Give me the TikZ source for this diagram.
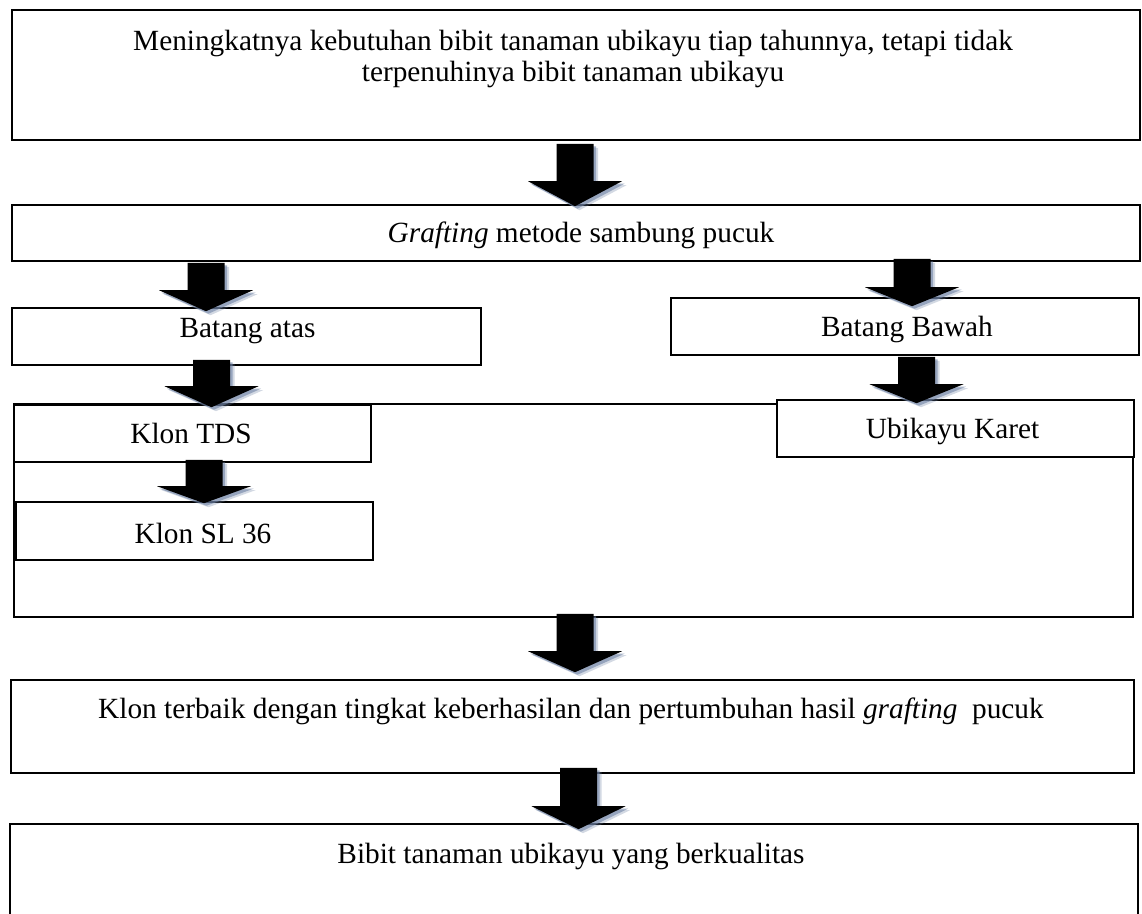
\documentclass[tikz,border=0pt]{standalone}
\usepackage{fontspec}
\setmainfont{Liberation Serif}
\usetikzlibrary{calc}
\definecolor{shadowc}{RGB}{110,130,165}
\tikzset{
  box/.style={draw=black,line width=1.6pt,fill=white,inner sep=0pt,rectangle},
  txt/.style={font=\fontsize{29.3}{31}\selectfont,inner sep=0pt,anchor=base,align=center},
}
\newcommand\bigarrow[3]{%
  \begin{scope}[transform canvas={xshift=4.5pt,yshift=-4pt}]
    \fill[shadowc,opacity=0.3] let \p1=#1,\p2=#2 in
      (\x1-18.5pt,\y1) -- (\x1+18.5pt,\y1) -- (\x1+18.5pt,\y2+#3pt) -- (\x1+47pt,\y2+#3pt)
      -- (\x1,\y2) -- (\x1-47pt,\y2+#3pt) -- (\x1-18.5pt,\y2+#3pt) -- cycle;
  \end{scope}
  \begin{scope}[transform canvas={xshift=2.5pt,yshift=-2.5pt}]
    \fill[shadowc,opacity=0.6] let \p1=#1,\p2=#2 in
      (\x1-18.5pt,\y1) -- (\x1+18.5pt,\y1) -- (\x1+18.5pt,\y2+#3pt) -- (\x1+47pt,\y2+#3pt)
      -- (\x1,\y2) -- (\x1-47pt,\y2+#3pt) -- (\x1-18.5pt,\y2+#3pt) -- cycle;
  \end{scope}
  \fill[black] let \p1=#1,\p2=#2 in
    (\x1-18.5pt,\y1) -- (\x1+18.5pt,\y1) -- (\x1+18.5pt,\y2+#3pt) -- (\x1+47pt,\y2+#3pt)
    -- (\x1,\y2) -- (\x1-47pt,\y2+#3pt) -- (\x1-18.5pt,\y2+#3pt) -- cycle;
}
\begin{document}
\begin{tikzpicture}[x=1pt,y=-1pt]
\useasboundingbox[fill=white] (0,0) rectangle (1142,913);
% boxes
\node[box,minimum width=1128pt,minimum height=130pt] (b1) at (576,75) {};
\node[box,minimum width=1128pt,minimum height=56pt] (b2) at (576,233) {};
\node[box,minimum width=469pt,minimum height=57pt] (b3) at (246.5,336.5) {};
\node[box,minimum width=468pt,minimum height=57pt] (b6) at (905,326.5) {};
\node[box,minimum width=1119pt,minimum height=213pt] (bb) at (573.5,510.5) {};
\node[box,minimum width=357pt,minimum height=57pt] (b4) at (192.5,433.5) {};
\node[box,minimum width=357pt,minimum height=58pt] (b5) at (194.5,531) {};
\node[box,minimum width=357pt,minimum height=57pt] (b7) at (955.5,428.5) {};
\node[box,minimum width=1123pt,minimum height=93pt] (b8) at (572.5,726.5) {};
\node[box,minimum width=1128pt,minimum height=136pt] (b9) at (574,892) {};
% texts
\node[txt] (t1) at (573,81) {Meningkatnya kebutuhan bibit tanaman ubikayu tiap tahunnya, tetapi tidak\\terpenuhinya bibit tanaman ubikayu};
\node[txt] (t2) at (581,242) {\textit{Grafting} metode sambung pucuk};
\node[txt] (t3) at (247.5,337) {Batang atas};
\node[txt] (t4) at (191,443) {Klon TDS};
\node[txt] (t5) at (203,543) {Klon SL 36};
\node[txt] (t6) at (907,336) {Batang Bawah};
\node[txt] (t7) at (952.5,438) {Ubikayu Karet};
\node[txt] (t8) at (571,718) {Klon terbaik dengan tingkat keberhasilan dan pertumbuhan hasil \textit{grafting}\ \ pucuk};
\node[txt] (t9) at (571,863) {Bibit tanaman ubikayu yang berkualitas};
% arrows
\bigarrow{([xshift=-1pt,yshift=-3pt]b1.south)}{([xshift=-1pt,yshift=-2pt]b2.north)}{25}
\bigarrow{([xshift=-370pt,yshift=-1pt]b2.south)}{([xshift=-40.5pt,yshift=-4pt]b3.north)}{21}
\bigarrow{([xshift=-35pt,yshift=6pt]b3.south)}{([xshift=19pt,yshift=-3pt]b4.north)}{21}
\bigarrow{([xshift=11.5pt,yshift=3pt]b4.south)}{([xshift=9.5pt,yshift=-2pt]b5.north)}{17}
\bigarrow{([xshift=336pt,yshift=3pt]b2.south)}{([xshift=7pt,yshift=-9pt]b6.north)}{19}
\bigarrow{([xshift=11.5pt,yshift=-1pt]b6.south)}{([xshift=-39pt,yshift=-4pt]b7.north)}{19}
\bigarrow{([xshift=1.5pt,yshift=4pt]bb.south)}{([xshift=2.5pt,yshift=7pt]b8.north)}{21}
\bigarrow{([xshift=6pt,yshift=6pt]b8.south)}{([xshift=4.5pt,yshift=-6pt]b9.north)}{23}
\end{tikzpicture}
\end{document}
